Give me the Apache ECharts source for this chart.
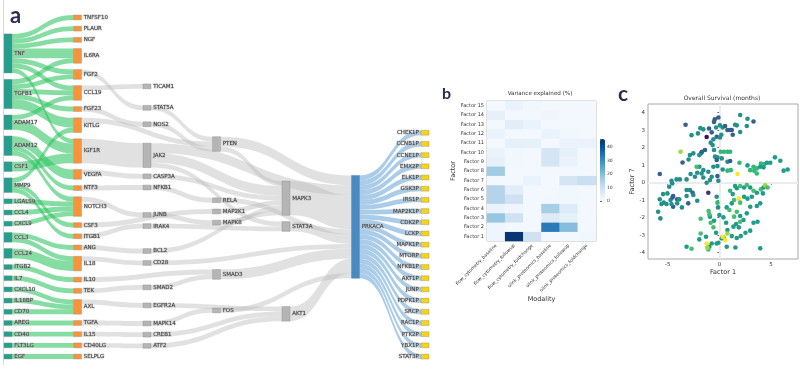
<!DOCTYPE html>
<html><head><meta charset="utf-8">
<script src="https://cdn.jsdelivr.net/npm/echarts@6/dist/echarts.min.js"></script>
<style>html,body{margin:0;padding:0;background:#fff}#c{width:800px;height:369px}</style>
</head><body><div id="c"></div>
<script>
// ---------- Panel a : Sankey ----------
const col0 = ['TNF','TGFB1','MMP9','ADAM17','CSF1','ADAM12','CCL3','CCL24','LGALS9','CCL4','CXCL9','IL7','ITGB2','CXCL10','IL18BP','CD70','AREG','CD40','FLT3LG','EGF'];
const col1 = ['TNFSF10','PLAUR','NGF','IL6RA','FGF2','FGF23','KITLG','CCL19','ITGB1','CSF3','IGF1R','NTF3','VEGFA','ANG','IL18','NOTCH3','TEK','IL10','AXL','TGFA','IL15','CD40LG','SELPLG'];
const col2 = ['STAT5A','NOS2','TICAM1','IRAK4','JAK2','NFKB1','CASP3A','BCL2','CD28','JUNB','SMAD2','EGFR2A','MAPK14','CREB1','ATF2'];
const col3 = ['PTEN','MAP2K1','RELA','MAPK8','SMAD3','FOS'];
const col4 = ['STAT3A','MAPK3','AKT1'];
const col5 = ['PRKACA'];
const col6 = ['CHEK1P','CCNB1P','CCNE1P','EMX2P','ELK1P','GSK3P','IRS1P','MAP2K1P','CDK2P','LCKP','MAPK1P','MTORP','NFKB1P','AKT1P','JUNP','PDPK1P','SRCP','RAC1P','PTK2P','YBX1P','STAT3P'];

const links01 = [
 ['TNF','TNFSF10',1],['TNF','PLAUR',1],['TNF','NGF',1],['TNF','IL6RA',2],['TNF','FGF2',1],['TNF','CCL19',1],['TNF','IGF1R',1],
 ['TGFB1','IL6RA',1],['TGFB1','FGF2',1],['TGFB1','FGF23',1],['TGFB1','KITLG',2],['TGFB1','CCL19',1],
 ['MMP9','KITLG',1],['MMP9','ITGB1',1],['MMP9','CSF3',1],
 ['ADAM17','CCL19',1],['ADAM17','IGF1R',2],
 ['CSF1','IGF1R',2],
 ['ADAM12','NTF3',1],['ADAM12','VEGFA',2],['ADAM12','NOTCH3',1],
 ['CCL3','ANG',1],['CCL3','IL18',1],
 ['CCL24','IL18',2],
 ['LGALS9','NOTCH3',1],['CCL4','NOTCH3',1],['CXCL9','NOTCH3',1],['IL7','TEK',1],['ITGB2','IL10',1],['CXCL10','AXL',1],
 ['IL18BP','AXL',1],['CD70','AXL',1],['AREG','TGFA',1],['CD40','IL15',1],['FLT3LG','CD40LG',1],['EGF','SELPLG',1]
];
const linksMid = [
 ['FGF2','STAT5A',1],['FGF23','NOS2',1],['KITLG','PTEN',1],['CCL19','TICAM1',1],['ITGB1','IRAK4',1],['CSF3','MAP2K1',1],
 ['IGF1R','JAK2',5],['NTF3','NFKB1',1],['VEGFA','CASP3A',1],['ANG','BCL2',1],['IL18','CD28',1],['NOTCH3','JUNB',1],
 ['TEK','SMAD2',1],['IL10','SMAD3',1],['AXL','EGFR2A',1],['TGFA','MAPK14',1],['IL15','CREB1',1],['CD40LG','ATF2',1],
 ['STAT5A','PTEN',1],['NOS2','PTEN',1],['IRAK4','STAT3A',1],
 ['JAK2','STAT3A',1],['JAK2','MAPK3',2],['JAK2','PRKACA',2],
 ['NFKB1','RELA',1],['CASP3A','MAPK3',1],['BCL2','MAPK3',1],['CD28','PRKACA',1],['JUNB','MAPK8',1],
 ['SMAD2','SMAD3',1],['EGFR2A','AKT1',1],['MAPK14','FOS',1],['CREB1','AKT1',1],['ATF2','AKT1',1],
 ['PTEN','MAPK3',1],['PTEN','PRKACA',2],['MAP2K1','MAPK3',1],['RELA','PRKACA',1],['MAPK8','MAPK3',1],
 ['SMAD3','PRKACA',2],['FOS','PRKACA',1],
 ['STAT3A','PRKACA',2],['MAPK3','PRKACA',7],['AKT1','PRKACA',3]
];
const links56 = col6.map(n => ['PRKACA', n, 1]);

// ---------- Panel b : heatmap ----------
const modalities = ['flow_cytometry_baseline','flow_cytometry_followup','flow_cytometry_foldchange','olink_proteomics_baseline','olink_proteomics_followup','olink_proteomics_foldchange'];
const factors = ['Factor 1','Factor 2','Factor 3','Factor 4','Factor 5','Factor 6','Factor 7','Factor 8','Factor 9','Factor 10','Factor 11','Factor 12','Factor 13','Factor 14','Factor 15'];
const variance = [ // rows: Factor 1..15, cols: modalities
 [2, 45, 9, 1, 1, 1.5],
 [2, 1, 1, 33, 20, 1],
 [18, 9, 1, 6, 4, 1],
 [3, 2, 1, 16, 6, 1],
 [14, 9, 1, 1.5, 1.5, 1],
 [14, 5, 1, 1, 1.5, 1],
 [1, 1, 3, 1, 8, 10],
 [17, 1, 1, 1, 1, 1],
 [4, 1.5, 1, 8, 3, 1],
 [3, 1.5, 1, 8, 4, 1],
 [1, 4, 4, 1, 3, 3],
 [3, 1, 1, 3, 1.5, 1],
 [1, 5, 3, 1, 1, 1],
 [4, 1, 1, 2, 1, 1],
 [1, 3, 1.5, 1, 1, 1]
];
const colorbarTicks = [0, 10, 20, 30, 40];

// ---------- Panel c : scatter ----------
const factor1 = [2.01,-3.27,-0.10,-0.45,-0.52,-1.84,-1.55,-2.07,-2.69,-1.23,-1.00,-0.74,-0.32,0.06,0.32,0.55,0.78,1.04,1.20,1.52,1.68,2.72,3.30,2.65,2.01,1.29,0.19,-0.26,0.06,-0.58,-0.84,-0.65,-1.39,-1.68,-1.78,-1.94,-2.52,-3.75,-2.85,-3.56,-2.98,-0.52,-0.42,-0.19,-0.26,0.13,0.45,0.78,1.04,0.23,0.78,1.04,1.94,2.72,3.30,3.62,4.01,4.34,4.60,4.92,5.37,5.89,6.21,6.60,4.27,3.95,3.37,2.98,3.62,1.75,1.10,0.78,0.32,-0.19,-0.58,-1.07,-1.55,-1.94,-2.20,-1.72,-1.55,-2.14,-2.36,-2.78,-3.17,-3.82,-4.14,-4.63,-4.56,-5.76,-4.85,-5.02,-5.44,-5.76,-5.37,-4.72,-4.53,-4.47,-4.08,-3.88,-4.08,-4.47,-4.63,-5.11,-5.60,-5.92,-5.70,-3.17,-2.85,-2.59,-2.52,-3.17,-2.14,-3.01,-3.62,-1.23,-0.91,-0.74,-0.19,-0.10,-1.07,-0.26,-0.19,-0.13,1.04,1.29,1.52,1.68,2.01,2.39,2.65,2.98,3.30,3.62,4.01,4.27,4.43,4.66,4.21,3.14,2.72,2.39,1.88,1.42,1.20,2.01,0.71,0.97,1.68,1.42,2.01,2.65,2.98,3.62,3.95,3.30,2.33,2.01,1.62,1.36,1.88,0.65,0.39,0.00,-0.91,-1.81,-0.52,-1.04,-0.97,-0.84,-0.58,-0.32,0.78,1.20,0.39,0.23,0.78,0.58,0.32,-0.10,-0.26,-0.74,-0.97,-1.23,-1.07,-1.17,-1.29,-1.81,-1.94,-3.17,-2.69,0.71,1.68,2.07,2.52,2.98,3.69,1.55,3.95];
const factor7 = [3.87,3.31,3.73,3.62,3.47,3.12,3.05,2.82,2.72,2.61,3.10,2.88,3.16,3.28,3.16,3.24,3.01,3.01,3.01,3.31,3.28,3.66,3.50,3.24,2.90,2.74,2.74,2.63,2.59,2.48,2.29,2.15,1.87,1.77,1.68,1.58,1.68,1.77,1.58,1.16,1.33,1.87,1.49,1.45,1.30,1.77,1.77,1.77,1.77,1.39,1.20,1.24,1.14,0.99,0.91,0.82,1.10,1.07,1.14,1.14,1.45,1.26,0.69,0.76,0.88,0.91,0.69,0.72,0.53,0.50,0.72,0.69,0.76,0.95,0.91,0.63,0.72,0.91,0.91,0.53,0.30,0.57,0.34,0.50,0.19,0.19,0.19,0.11,-0.04,0.50,-0.23,-0.61,-0.65,-0.95,-1.14,-0.99,-0.84,-0.76,-0.95,-0.95,-1.18,-1.37,-1.22,-1.22,-1.22,-1.66,-2.04,-0.42,-0.42,-0.57,-0.70,-0.76,-1.03,-1.18,-1.41,0.00,0.15,0.34,0.38,0.11,-0.57,-0.80,-1.14,-1.41,-0.46,-0.65,-0.19,-0.32,-0.19,-0.27,-0.13,-0.27,-0.46,-0.57,-0.38,-0.27,-0.15,-0.27,-0.61,-0.80,-0.91,-0.80,-0.91,-0.99,-1.18,-1.14,-1.41,-1.56,-1.66,-1.94,-1.90,-1.75,-1.37,-1.33,-1.18,-2.29,-2.13,-2.23,-2.36,-2.51,-2.55,-2.29,-1.98,-1.85,-1.94,-2.06,-2.17,-1.62,-1.81,-2.29,-2.55,-2.86,-2.70,-3.05,-3.12,-3.18,-2.90,-3.28,-3.09,-3.43,-3.47,-3.47,-3.66,-3.47,-3.81,-3.71,-3.09,-2.90,-3.24,-3.66,-3.77,-3.66,-3.16,-3.05,-2.86,-2.74,-2.23,-3.70,-3.75];
const survival = [30,18,18,18,18,30,30,30,30,2,18,18,30,30,30,18,18,18,18,30,30,30,18,30,30,18,30,18,30,30,30,30,18,18,18,30,30,51,30,18,30,30,30,30,18,40,40,40,40,30,30,18,40,33,40,40,40,40,33,33,33,33,33,33,33,33,40,40,40,60,40,40,30,30,30,30,30,30,42,30,30,30,30,30,30,30,30,30,30,18,30,30,30,30,30,30,18,18,18,30,30,18,30,30,30,30,30,30,30,18,30,30,30,18,30,30,30,30,18,30,8,30,40,30,40,33,33,33,42,33,42,33,42,33,42,33,51,42,33,33,33,33,60,42,33,42,33,42,42,42,33,33,33,33,33,33,33,42,33,33,33,33,33,33,33,42,33,42,42,42,42,33,33,33,33,33,51,60,60,33,33,33,33,60,42,51,33,42,33,33,42,33,33,33,33,33,33,33,33];

const blues = ['#f7fbff','#deebf7','#c6dbef','#9ecae1','#6baed6','#4292c6','#2171b5','#08519c','#08306b'];
const viridis = ['#440154','#482878','#3e4989','#31688e','#26828e','#1f9e89','#35b779','#6ece58','#b5de2b','#fde725'];
const FF = 'DejaVu Sans';

// build sankey nodes/links
const columns = [col0,col1,col2,col3,col4,col5,col6];
const nodeColors = ['#22a08d','#f7933b','#b5b5b5','#b5b5b5','#b5b5b5','#4a8ac3','#f8d315'];
const depthOf = {};
const nodes = [];
columns.forEach((col, d) => col.forEach(name => {
  depthOf[name] = d;
  const n = {name, depth: d, itemStyle: {color: nodeColors[d], borderColor: d === 5 ? '#3f79ad' : '#8a8a8a', borderWidth: 0.4}};
  if (d === 6) n.label = {position: 'left'};
  nodes.push(n);
}));
const linkStyle = d => d === 0 ? {color:'#2ec461', opacity:0.58} : (d === 5 ? {color:'#86b7de', opacity:0.7} : {color:'#bdbdbd', opacity:0.45});
const links = links01.concat(linksMid, links56).map(([s,t,v]) => ({source:s, target:t, value:v, lineStyle: linkStyle(depthOf[s])}));

const heatData = [];
variance.forEach((row, yi) => row.forEach((v, xi) => heatData.push([xi, yi, v])));
const scatterData = factor1.map((x, i) => [x, factor7[i], survival[i]]);

const chart = echarts.init(document.getElementById('c'), null, {renderer:'canvas'});
const axisTxt = {fontFamily: FF, color: '#333'};
chart.setOption({
  animation: false,
  textStyle: {fontFamily: FF},
  grid: [
    {left:487, top:101, width:109, height:140, show:true, borderColor:'#b4b4b4', borderWidth:1, backgroundColor:'transparent'},
    {left:600, top:139, width:5, height:62, show:false},
    {left:648, top:104, width:150, height:155, show:true, borderColor:'#a8a8a8', borderWidth:1}
  ],
  xAxis: [
    {gridIndex:0, type:'category', data: modalities, axisLine:{show:false}, axisTick:{alignWithLabel:true, length:2, lineStyle:{color:'#666'}},
     axisLabel:Object.assign({rotate:45, fontSize:4.5, margin:4, interval:0}, axisTxt),
     name:'Modality', nameLocation:'middle', nameGap:51, nameTextStyle:Object.assign({fontSize:6.5}, axisTxt)},
    {gridIndex:1, type:'value', min:0, max:1, show:false},
    {gridIndex:2, type:'value', min:-6.9, max:7.6, splitNumber:3, axisLine:{show:false}, splitLine:{show:false},
     axisTick:{length:2, lineStyle:{color:'#666'}},
     axisLabel:Object.assign({fontSize:5.5, margin:3, showMinLabel:false, showMaxLabel:false}, axisTxt),
     name:'Factor 1', nameLocation:'middle', nameGap:10, nameTextStyle:Object.assign({fontSize:6.5}, axisTxt)}
  ],
  yAxis: [
    {gridIndex:0, type:'category', data: factors, axisLine:{show:false}, axisTick:{alignWithLabel:true, length:2, lineStyle:{color:'#666'}},
     axisLabel:Object.assign({fontSize:5, margin:3, interval:0}, axisTxt),
     name:'Factor', nameLocation:'middle', nameGap:27, nameRotate:90, nameTextStyle:Object.assign({fontSize:6.5}, axisTxt)},
    {gridIndex:1, type:'value', min:0, max:46, interval:10, position:'right', axisLine:{show:false}, splitLine:{show:false},
     axisTick:{show:true, length:2, lineStyle:{color:'#666'}}, axisLabel:Object.assign({fontSize:4.5, margin:2, customValues: colorbarTicks}, axisTxt)},
    {gridIndex:2, type:'value', min:-4.36, max:4.5, splitNumber:9, axisLine:{show:false}, splitLine:{show:false},
     axisTick:{length:2, lineStyle:{color:'#666'}},
     axisLabel:Object.assign({fontSize:5.5, margin:3, showMinLabel:false, showMaxLabel:false}, axisTxt),
     name:'Factor 7', nameLocation:'middle', nameGap:9, nameRotate:90, nameTextStyle:Object.assign({fontSize:6.5}, axisTxt)}
  ],
  visualMap: [
    {type:'continuous', seriesIndex:1, min:0, max:46, inRange:{color: blues}, show:true, calculable:false, hoverLink:false,
     left:600, top:139, itemWidth:5, itemHeight:62, padding:0, text:null},
    {type:'continuous', seriesIndex:2, dimension:2, min:0, max:60, inRange:{color: viridis}, show:false}
  ],
  series: [
    {type:'sankey', left:4, top:15, right:371, bottom:10, nodeWidth:8, nodeGap:6.3, layoutIterations:32, draggable:false,
     emphasis:{disabled:true},
     label:{show:true, position:'right', distance:2, fontSize:5.5, fontFamily:FF, color:'#3a3a3a', textBorderColor:'rgba(175,175,175,0.7)', textBorderWidth:1},
     lineStyle:{curveness:0.5},
     data: nodes, links: links},
    {type:'heatmap', xAxisIndex:0, yAxisIndex:0, data: heatData, emphasis:{disabled:true}, itemStyle:{borderWidth:0}},
    {type:'scatter', xAxisIndex:2, yAxisIndex:2, data: scatterData, symbolSize:4.6, z:3, itemStyle:{opacity:1},
     markLine:{silent:true, z:1, symbol:['none','none'], label:{show:false}, lineStyle:{color:'#ececec', width:2, type:'solid'},
       data:[{xAxis:0},{yAxis:0}]}}
  ],
  graphic: [
    {type:'line', shape:{x1:3.5, y1:0, x2:3.5, y2:365}, style:{stroke:'#d8d8d8', lineWidth:1}},
    {type:'text', left:10, top:5, style:{text:'a', font:'bold 22px Lato', fill:'#2b2e52'}},
    {type:'text', left:442, top:86, style:{text:'b', font:'bold 16px Lato', fill:'#2b2e52'}},
    {type:'text', left:618, top:84, style:{text:'c', font:'bold 21px Lato', fill:'#2b2e52'}},
    {type:'text', x:540, y:94, style:{text:'Variance explained (%)', font:'5.6px "DejaVu Sans"', fill:'#333', textAlign:'center', textVerticalAlign:'middle'}},
    {type:'text', x:722, y:98, style:{text:'Overall Survival (months)', font:'6px "DejaVu Sans"', fill:'#333', textAlign:'center', textVerticalAlign:'middle'}}
  ]
});
</script></body></html>
